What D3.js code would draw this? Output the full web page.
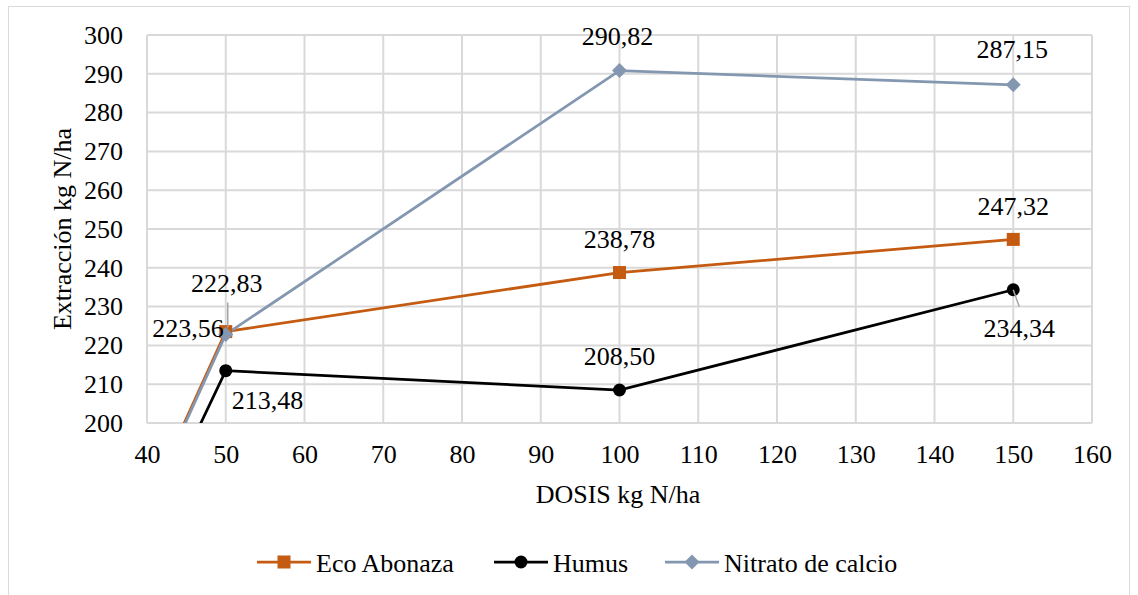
<!DOCTYPE html>
<html lang="es">
<head>
<meta charset="UTF-8">
<title>Extracción kg N/ha</title>
<style>
  body { margin: 0; background: #fff; }
</style>
</head>
<body>
<div id="chart"></div>
<script src="https://d3js.org/d3.v7.min.js"></script>
<script>
// Data (dose 0 point is clipped below the axis)
const doses = [0, 50, 100, 150];
const ecoAbonaza = [0, 223.56, 238.78, 247.32];
const humus = [0, 213.48, 208.50, 234.34];
const nitrato = [0, 222.83, 290.82, 287.15];
const seriesNames = ["Eco Abonaza", "Humus", "Nitrato de calcio"];
const xTicks = d3.range(40, 161, 10);
const yTicks = d3.range(200, 301, 10);

const W = 1138, H = 595;
const plot = { left: 147, right: 1092, top: 35, bottom: 423 };

// pick the first serif font that really exists
const candidates = ["Liberation Serif", "Tinos", "Times New Roman", "Nimbus Roman", "Nimbus Roman No9 L",
  "FreeSerif", "Noto Serif", "DejaVu Serif", "Georgia"];
const ctx = document.createElement("canvas").getContext("2d");
function widthIn(f) { ctx.font = `40px ${f}`; return ctx.measureText("mmmwwwiiilll 0123456789").width; }
const base = widthIn("monospace");
const found = candidates.find(c => widthIn(`"${c}", monospace`) !== base);
const FONT = found ? `"${found}", serif` : "serif";
const FS = found ? 26 : 23.5;

const svg = d3.select("#chart").append("svg")
  .attr("width", W).attr("height", H)
  .attr("font-family", FONT);

// outer chart border
svg.append("rect")
  .attr("x", 8.5).attr("y", 6.5).attr("width", 1121).attr("height", 600)
  .attr("fill", "none").attr("stroke", "#d9d9d9");

const x = d3.scaleLinear().domain([40, 160]).range([plot.left, plot.right]);
const y = d3.scaleLinear().domain([200, 300]).range([plot.bottom, plot.top]);

// gridlines
const grid = svg.append("g").attr("stroke", "#d9d9d9").attr("stroke-width", 2);
grid.selectAll(".gx").data(xTicks).enter().append("line")
  .attr("x1", d => x(d)).attr("x2", d => x(d))
  .attr("y1", plot.top).attr("y2", plot.bottom);
grid.selectAll(".gy").data(yTicks).enter().append("line")
  .attr("x1", plot.left).attr("x2", plot.right)
  .attr("y1", d => y(d)).attr("y2", d => y(d));

// axes, labels only
const xAxis = svg.append("g")
  .attr("transform", `translate(0,${plot.bottom})`)
  .call(d3.axisBottom(x).tickValues(xTicks).tickSize(0).tickPadding(22));
const yAxis = svg.append("g")
  .attr("transform", `translate(${plot.left},0)`)
  .call(d3.axisLeft(y).tickValues(yTicks).tickSize(0).tickPadding(24));
[xAxis, yAxis].forEach(a => {
  a.select(".domain").remove();
  a.attr("font-family", FONT).attr("font-size", FS);
  a.selectAll("text").attr("fill", "#000");
});

svg.append("text")
  .attr("x", 618).attr("y", 503).attr("text-anchor", "middle")
  .attr("font-size", FS).text("DOSIS kg N/ha");
svg.append("text")
  .attr("transform", "translate(71,229) rotate(-90)")
  .attr("text-anchor", "middle").attr("font-size", FS).text("Extracción kg N/ha");

// clip to plot area
svg.append("clipPath").attr("id", "clip").append("rect")
  .attr("x", plot.left).attr("y", plot.top)
  .attr("width", plot.right - plot.left).attr("height", plot.bottom - plot.top);

const series = [
  { name: seriesNames[0], values: ecoAbonaza, color: "#c55a11", marker: "square" },
  { name: seriesNames[1], values: humus, color: "#000000", marker: "circle" },
  { name: seriesNames[2], values: nitrato, color: "#8497b0", marker: "diamond" }
];

const line = d3.line().x((d, i) => x(doses[i])).y(d => y(d));
const markerPath = {
  square: d3.symbol(d3.symbolSquare, 169)(),
  circle: d3.symbol(d3.symbolCircle, 133)(),
  diamond: "M0,-7.5L7.5,0L0,7.5L-7.5,0Z"
};

const marks = svg.append("g").attr("clip-path", "url(#clip)");
series.forEach(s => {
  marks.append("path").datum(s.values)
    .attr("fill", "none").attr("stroke", s.color).attr("stroke-width", 2.75)
    .attr("d", line);
});
series.forEach(s => {
  marks.selectAll(null).data(s.values).enter().append("path")
    .attr("transform", (d, i) => `translate(${x(doses[i])},${y(d)})`)
    .attr("d", markerPath[s.marker])
    .attr("fill", s.color);
});

// data labels (offsets relative to each point)
const labels = [
  { s: 0, i: 1, dx: -2, dy: 5, anchor: "end" },
  { s: 0, i: 2, dx: 0, dy: -25, anchor: "middle" },
  { s: 0, i: 3, dx: 0, dy: -24, anchor: "middle" },
  { s: 1, i: 1, dx: 6, dy: 38, anchor: "start" },
  { s: 1, i: 2, dx: 0, dy: -25, anchor: "middle" },
  { s: 1, i: 3, dx: 6, dy: 47, anchor: "middle", leader: [0, 0, 6, 17] },
  { s: 2, i: 1, dx: 1, dy: -42, anchor: "middle", leader: [2, -7, 2, -32] },
  { s: 2, i: 2, dx: -2, dy: -26, anchor: "middle" },
  { s: 2, i: 3, dx: -1, dy: -27, anchor: "middle" }
];
const lab = svg.append("g");
labels.forEach(l => {
  const v = series[l.s].values[l.i];
  const px = x(doses[l.i]), py = y(v);
  if (l.leader) {
    lab.append("line")
      .attr("x1", px + l.leader[0]).attr("y1", py + l.leader[1])
      .attr("x2", px + l.leader[2]).attr("y2", py + l.leader[3])
      .attr("stroke", "#a6a6a6").attr("stroke-width", 1.5);
  }
  lab.append("text")
    .attr("x", px + l.dx).attr("y", py + l.dy)
    .attr("text-anchor", l.anchor).attr("font-size", FS)
    .text(v.toFixed(2).replace(".", ","));
});

// legend
const legendX = [257, 494, 665];
const legend = svg.append("g");
series.forEach((s, k) => {
  const g = legend.append("g").attr("transform", `translate(${legendX[k]},562)`);
  g.append("line").attr("x1", 0).attr("x2", 54).attr("y1", 0).attr("y2", 0)
    .attr("stroke", s.color).attr("stroke-width", 2.75);
  g.append("path").attr("transform", "translate(27,0)")
    .attr("d", markerPath[s.marker]).attr("fill", s.color);
  g.append("text").attr("x", 59).attr("y", 10).attr("font-size", FS).text(s.name);
});
</script>
</body>
</html>
